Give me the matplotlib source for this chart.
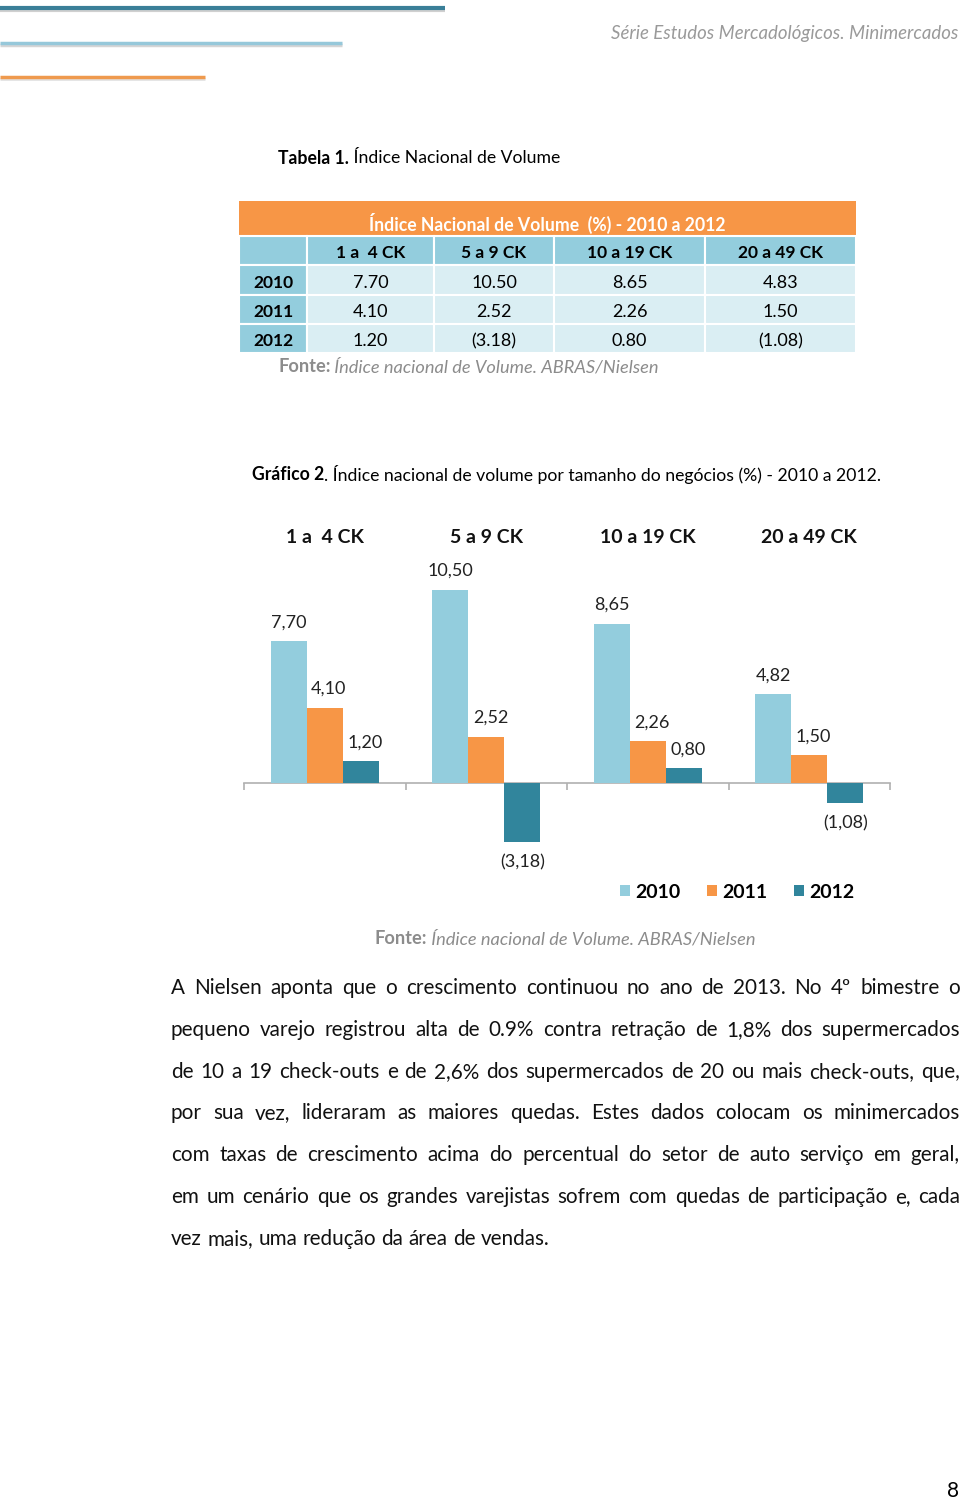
import matplotlib
matplotlib.use("Agg")
import matplotlib.pyplot as plt
from matplotlib.patches import Rectangle
import matplotlib.transforms as mtransforms

# ---- dados ----
categorias = ["1 a  4 CK", "5 a 9 CK", "10 a 19 CK", "20 a 49 CK"]
anos = ["2010", "2011", "2012"]

# tabela 1
tabela_2010 = [7.70, 10.50, 8.65, 4.83]
tabela_2011 = [4.10, 2.52, 2.26, 1.50]
tabela_2012 = [1.20, -3.18, 0.80, -1.08]

# grafico 2
grafico_2010 = [7.70, 10.50, 8.65, 4.82]
grafico_2011 = [4.10, 2.52, 2.26, 1.50]
grafico_2012 = [1.20, -3.18, 0.80, -1.08]

paragrafo = [
    "A Nielsen aponta que o crescimento continuou no ano de 2013. No 4º bimestre o",
    "pequeno varejo registrou alta de 0.9% contra retração de 1,8% dos supermercados",
    "de 10 a 19 check-outs e de 2,6% dos supermercados de 20 ou mais check-outs, que,",
    "por sua vez, lideraram as maiores quedas. Estes dados colocam os minimercados",
    "com taxas de crescimento acima do percentual do setor de auto serviço em geral,",
    "em um cenário que os grandes varejistas sofrem com quedas de participação e, cada",
    "vez mais, uma redução da área de vendas.",
]

# ---- cores ----
AZUL = "#93CDDD"
LARANJA = "#F79646"
TEAL = "#31859C"
CELULA = "#DAEEF3"
CINZA = "#8C8C8C"
FONTE = "Lato"

fig = plt.figure(figsize=(9.6, 15), dpi=100)
bg = fig.add_axes([0, 0, 1, 1])
bg.set_xlim(0, 960)
bg.set_ylim(1500, 0)
bg.axis("off")
renderer = fig.canvas.get_renderer()


def largura(t):
    return t.get_window_extent(renderer).width


def runs(x, y, parts, size, ha="left", width=None, color="black"):
    # parts: lista de (texto, weight, style)
    def medir(sz):
        tot = 0
        for s, wgt, sty in parts:
            t = bg.text(0, 0, s, fontsize=sz, family=FONTE, weight=wgt, style=sty)
            tot += largura(t)
            t.remove()
        return tot
    if width is not None:
        size = size * width / medir(size)
    total = medir(size)
    if ha == "center":
        x = x - total / 2
    elif ha == "right":
        x = x - total
    for s, wgt, sty in parts:
        t = bg.text(x, y, s, fontsize=size, family=FONTE, weight=wgt, style=sty,
                    color=color, va="center", ha="left")
        x += largura(t)


# ---- linhas do topo ----
bg.plot([0, 445], [10, 10], color="#D0D0D0", lw=3, solid_capstyle="butt")
bg.plot([0, 445], [8, 8], color="#3A7F98", lw=3, solid_capstyle="butt")
bg.plot([0, 342], [45, 45], color="#D5D5D5", lw=2.5, solid_capstyle="butt")
bg.plot([0, 342], [43, 43], color="#96C8DA", lw=2.5, solid_capstyle="butt")
bg.plot([0, 205], [79, 79], color="#E2E2E2", lw=2, solid_capstyle="butt")
bg.plot([0, 205], [77, 77], color="#EF9A4E", lw=2.5, solid_capstyle="butt")

runs(958, 33, [("Série Estudos Mercadológicos. Minimercados", "normal", "italic")],
     12, ha="right", width=346, color="#9A9A9A")

runs(278, 158, [("Tabela 1.", "bold", "normal"), (" Índice Nacional de Volume", "normal", "normal")],
     12, width=281)

# ---- tabela ----
col_x = [239, 307, 434, 554, 705, 856]
lin_y = [236, 265, 295, 324, 353]
bg.add_patch(Rectangle((239, 201), 617, 35, facecolor=LARANJA, edgecolor="none"))
runs(547, 223, [("Índice Nacional de Volume  (%) - 2010 a 2012", "bold", "normal")],
     12, ha="center", width=354, color="white")

linhas_tab = [tabela_2010, tabela_2011, tabela_2012]


def fmt_tab(v):
    return "(%.2f)" % abs(v) if v < 0 else "%.2f" % v


for r in range(4):
    for c in range(5):
        cor = AZUL if (r == 0 or c == 0) else CELULA
        bg.add_patch(Rectangle((col_x[c], lin_y[r]), col_x[c + 1] - col_x[c], lin_y[r + 1] - lin_y[r],
                               facecolor=cor, edgecolor="white", lw=1.5))
        yc = (lin_y[r] + lin_y[r + 1]) / 2 + 2.5
        xc = (col_x[c] + col_x[c + 1]) / 2
        if r == 0 and c > 0:
            bg.text(xc, yc, categorias[c - 1], fontsize=12.5, family=FONTE, weight="bold",
                    ha="center", va="center")
        elif r > 0 and c == 0:
            bg.text(253, yc, anos[r - 1], fontsize=12.5, family=FONTE, weight="bold",
                    ha="left", va="center")
        elif r > 0:
            bg.text(xc, yc, fmt_tab(linhas_tab[r - 1][c - 1]), fontsize=13, family=FONTE,
                    ha="center", va="center")

runs(278, 367, [("Fonte:", "bold", "normal"), (" Índice nacional de Volume. ABRAS/Nielsen", "normal", "italic")],
     12, width=379, color=CINZA)

runs(252, 474, [("Gráfico 2", "bold", "normal"),
                (". Índice nacional de volume por tamanho do negócios (%) - 2010 a 2012.", "normal", "normal")],
     12, width=627)

# ---- grafico ----
ax = fig.add_axes([244 / 960, 1 - 880 / 1500, 646 / 960, 380 / 1500])
ax.patch.set_alpha(0)
esc = 18.4
ax.set_xlim(-0.5, 3.5)
ax.set_ylim(-(880 - 783) / esc, (783 - 500) / esc)
xs = list(range(len(categorias)))
w = 0.223
series = [grafico_2010, grafico_2011, grafico_2012]
cores = [AZUL, LARANJA, TEAL]
for j, (vals, cor) in enumerate(zip(series, cores)):
    pos = [x + (j - 1) * w for x in xs]
    ax.bar(pos, vals, w, color=cor, label=anos[j], zorder=3)
    for p, v in zip(pos, vals):
        txt = ("(%.2f)" % abs(v) if v < 0 else "%.2f" % v).replace(".", ",")
        dx = 0 if (j == 0 or v < 0) else 3
        dy = 13.5 if v >= 0 else -15
        ax.annotate(txt, (p, v), xytext=(dx, dy), textcoords="offset points",
                    ha="center", va="center", fontsize=13, family=FONTE, color="#222222")

for s in ["top", "left", "right"]:
    ax.spines[s].set_visible(False)
ax.spines["bottom"].set_position(("data", 0))
ax.spines["bottom"].set_color("#B0B0B0")
ax.spines["bottom"].set_linewidth(1.2)
ax.set_xticks([-0.5, 0.5, 1.5, 2.5, 3.5])
ax.set_xticklabels([])
ax.tick_params(axis="x", length=5, color="#B0B0B0", width=1.2, direction="out")
ax.set_yticks([])

trans = mtransforms.blended_transform_factory(ax.transData, ax.transAxes)
for x, cat in zip(xs, categorias):
    ax.text(x, (880 - 538) / 380, cat, transform=trans, ha="center", va="center",
            fontsize=14, family=FONTE, weight="bold", color="#111111")

fig.legend(loc="center", bbox_to_anchor=(737 / 960, 1 - 892 / 1500), ncol=3, frameon=False,
           prop={"family": FONTE, "weight": "bold", "size": 14}, handlelength=0.55,
           handleheight=0.55, handletextpad=0.25, columnspacing=1.35)

runs(565, 939, [("Fonte:", "bold", "normal"), (" Índice nacional de Volume. ABRAS/Nielsen", "normal", "italic")],
     12, ha="center", width=380, color=CINZA)

# ---- paragrafo justificado ----
x0, x1 = 171, 960
fs = 15.0


def medir_linha(line, sz):
    ws = []
    for pal in line.split():
        t = bg.text(0, 0, pal, fontsize=sz, family=FONTE)
        ws.append(largura(t))
        t.remove()
    return ws


t = bg.text(0, 0, "a a", fontsize=fs, family=FONTE)
t2 = bg.text(0, 0, "aa", fontsize=fs, family=FONTE)
espaco = largura(t) - largura(t2)
t.remove()
t2.remove()
maior = max(sum(medir_linha(l, fs)) + espaco * (len(l.split()) - 1) for l in paragrafo[:-1])
if maior > (x1 - x0) * 0.97:
    fator = (x1 - x0) * 0.97 / maior
    fs *= fator
    espaco *= fator

for i, line in enumerate(paragrafo):
    y = 988 + i * 41.8
    pals = line.split()
    ws = medir_linha(line, fs)
    if i < len(paragrafo) - 1:
        gap = (x1 - x0 - sum(ws)) / (len(pals) - 1)
    else:
        gap = espaco
    x = x0
    for pal, wd in zip(pals, ws):
        bg.text(x, y, pal, fontsize=fs, family=FONTE, va="center", ha="left", color="#111111")
        x += wd + gap

bg.text(953, 1491, "8", fontsize=15, family=FONTE, ha="center", va="center")

fig.savefig("out.png", dpi=100)
